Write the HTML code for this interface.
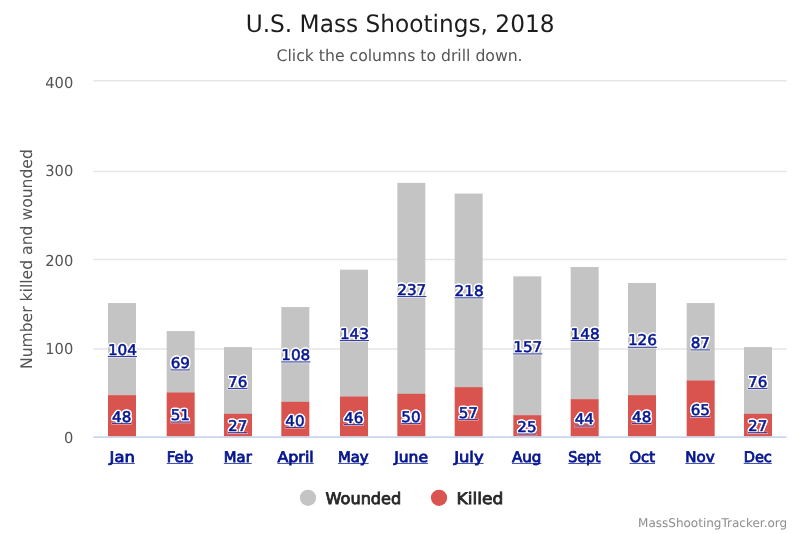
<!DOCTYPE html>
<html lang="en"><head><meta charset="utf-8"><title>U.S. Mass Shootings, 2018</title>
<style>html,body{margin:0;padding:0;background:#fff;overflow:hidden;}svg{display:block;}text{font-family:"DejaVu Sans", "Liberation Sans", sans-serif;text-rendering:geometricPrecision;}.dl{font-size:14.8px;fill:#06168f;stroke:#06168f;stroke-width:0.55px;}.xl{font-size:14.67px;fill:#06168f;stroke:#06168f;stroke-width:0.8px;}.yl{font-size:15.2px;fill:#545454;}.lg{font-size:16px;fill:#262626;stroke:#262626;stroke-width:0.8px;}</style></head><body>
<svg width="800" height="534" viewBox="0 0 800 534">
<rect width="800" height="534" fill="#ffffff"/>
<defs><filter id="halo" x="-25%" y="-35%" width="150%" height="170%" color-interpolation-filters="sRGB"><feGaussianBlur in="SourceAlpha" stdDeviation="1.2" result="b"/><feComponentTransfer in="b" result="t"><feFuncA type="linear" slope="12" intercept="-0.35"/></feComponentTransfer><feFlood flood-color="#ffffff"/><feComposite in2="t" operator="in" result="h"/><feMerge><feMergeNode in="h"/><feMergeNode in="SourceGraphic"/></feMerge></filter></defs>
<path d="M93.3 80.80H786.6" stroke="#e6e6e6" stroke-width="1.5"/>
<path d="M93.3 171.40H786.6" stroke="#e6e6e6" stroke-width="1.5"/>
<path d="M93.3 259.60H786.6" stroke="#e6e6e6" stroke-width="1.5"/>
<path d="M93.3 349.10H786.6" stroke="#e6e6e6" stroke-width="1.5"/>
<rect x="108.00" y="303.05" width="28.00" height="92.41" fill="#c4c4c4"/>
<rect x="108.00" y="395.16" width="28.00" height="41.39" fill="#d9534f"/>
<rect x="166.67" y="331.08" width="28.00" height="61.71" fill="#c4c4c4"/>
<rect x="166.67" y="392.49" width="28.00" height="44.06" fill="#d9534f"/>
<rect x="224.00" y="347.10" width="28.00" height="67.05" fill="#c4c4c4"/>
<rect x="224.00" y="413.85" width="28.00" height="22.70" fill="#d9534f"/>
<rect x="281.33" y="307.05" width="28.00" height="95.08" fill="#c4c4c4"/>
<rect x="281.33" y="401.83" width="28.00" height="34.71" fill="#d9534f"/>
<rect x="340.00" y="269.67" width="28.00" height="127.12" fill="#c4c4c4"/>
<rect x="340.00" y="396.50" width="28.00" height="40.05" fill="#d9534f"/>
<rect x="397.33" y="182.89" width="28.00" height="211.23" fill="#c4c4c4"/>
<rect x="397.33" y="393.82" width="28.00" height="42.72" fill="#d9534f"/>
<rect x="454.67" y="193.57" width="28.00" height="193.88" fill="#c4c4c4"/>
<rect x="454.67" y="387.15" width="28.00" height="49.40" fill="#d9534f"/>
<rect x="513.33" y="276.34" width="28.00" height="139.14" fill="#c4c4c4"/>
<rect x="513.33" y="415.19" width="28.00" height="21.36" fill="#d9534f"/>
<rect x="570.67" y="267.00" width="28.00" height="132.46" fill="#c4c4c4"/>
<rect x="570.67" y="399.16" width="28.00" height="37.38" fill="#d9534f"/>
<rect x="628.00" y="283.02" width="28.00" height="112.44" fill="#c4c4c4"/>
<rect x="628.00" y="395.16" width="28.00" height="41.39" fill="#d9534f"/>
<rect x="686.67" y="303.05" width="28.00" height="77.73" fill="#c4c4c4"/>
<rect x="686.67" y="380.47" width="28.00" height="56.07" fill="#d9534f"/>
<rect x="744.00" y="347.10" width="28.00" height="67.05" fill="#c4c4c4"/>
<rect x="744.00" y="413.85" width="28.00" height="22.70" fill="#d9534f"/>
<path d="M93.3 437.15H786.6" stroke="#ccd6eb" stroke-width="1.6"/>
<text class="yl" x="73.3" y="87.90" text-anchor="end" textLength="27.99" lengthAdjust="spacingAndGlyphs">400</text>
<text class="yl" x="73.3" y="176.40" text-anchor="end" textLength="27.99" lengthAdjust="spacingAndGlyphs">300</text>
<text class="yl" x="73.3" y="265.60" text-anchor="end" textLength="27.99" lengthAdjust="spacingAndGlyphs">200</text>
<text class="yl" x="73.3" y="353.75" text-anchor="end" textLength="27.99" lengthAdjust="spacingAndGlyphs">100</text>
<text class="yl" x="73.3" y="443.25" text-anchor="end" textLength="9.33" lengthAdjust="spacingAndGlyphs">0</text>
<text transform="translate(32.3,259.1) rotate(-90)" text-anchor="middle" font-size="16" fill="#545454" textLength="219.9" lengthAdjust="spacingAndGlyphs">Number killed and wounded</text>
<rect x="107.30" y="355.65" width="30.30" height="2.3" fill="#fff" opacity="0.5"/><text class="dl" filter="url(#halo)" x="107.90" y="354.75" textLength="29.10" lengthAdjust="spacingAndGlyphs">104</text><rect x="107.90" y="356.18" width="29.10" height="0.8" fill="#06168f"/>
<rect x="111.40" y="422.40" width="20.50" height="2.3" fill="#fff" opacity="0.5"/><text class="dl" filter="url(#halo)" x="112.00" y="421.50" textLength="19.30" lengthAdjust="spacingAndGlyphs">48</text><rect x="112.00" y="422.93" width="19.30" height="0.8" fill="#06168f"/>
<rect x="170.07" y="369.00" width="20.50" height="2.3" fill="#fff" opacity="0.5"/><text class="dl" filter="url(#halo)" x="170.67" y="368.10" textLength="19.30" lengthAdjust="spacingAndGlyphs">69</text><rect x="170.67" y="369.53" width="19.30" height="0.8" fill="#06168f"/>
<rect x="170.07" y="421.06" width="20.50" height="2.3" fill="#fff" opacity="0.5"/><text class="dl" filter="url(#halo)" x="170.67" y="420.17" textLength="19.30" lengthAdjust="spacingAndGlyphs">51</text><rect x="170.67" y="421.60" width="19.30" height="0.8" fill="#06168f"/>
<rect x="227.40" y="387.69" width="20.50" height="2.3" fill="#fff" opacity="0.5"/><text class="dl" filter="url(#halo)" x="228.00" y="386.79" textLength="19.30" lengthAdjust="spacingAndGlyphs">76</text><rect x="228.00" y="388.22" width="19.30" height="0.8" fill="#06168f"/>
<rect x="227.40" y="431.75" width="20.50" height="2.3" fill="#fff" opacity="0.5"/><text class="dl" filter="url(#halo)" x="228.00" y="430.85" textLength="19.30" lengthAdjust="spacingAndGlyphs">27</text><rect x="228.00" y="432.28" width="19.30" height="0.8" fill="#06168f"/>
<rect x="280.63" y="360.99" width="30.30" height="2.3" fill="#fff" opacity="0.5"/><text class="dl" filter="url(#halo)" x="281.23" y="360.09" textLength="29.10" lengthAdjust="spacingAndGlyphs">108</text><rect x="281.23" y="361.52" width="29.10" height="0.8" fill="#06168f"/>
<rect x="284.73" y="426.40" width="20.50" height="2.3" fill="#fff" opacity="0.5"/><text class="dl" filter="url(#halo)" x="285.33" y="425.50" textLength="19.30" lengthAdjust="spacingAndGlyphs">40</text><rect x="285.33" y="426.94" width="19.30" height="0.8" fill="#06168f"/>
<rect x="339.30" y="339.63" width="30.30" height="2.3" fill="#fff" opacity="0.5"/><text class="dl" filter="url(#halo)" x="339.90" y="338.73" textLength="29.10" lengthAdjust="spacingAndGlyphs">143</text><rect x="339.90" y="340.16" width="29.10" height="0.8" fill="#06168f"/>
<rect x="343.40" y="423.73" width="20.50" height="2.3" fill="#fff" opacity="0.5"/><text class="dl" filter="url(#halo)" x="344.00" y="422.83" textLength="19.30" lengthAdjust="spacingAndGlyphs">46</text><rect x="344.00" y="424.26" width="19.30" height="0.8" fill="#06168f"/>
<rect x="396.63" y="295.57" width="30.30" height="2.3" fill="#fff" opacity="0.5"/><text class="dl" filter="url(#halo)" x="397.23" y="294.68" textLength="29.10" lengthAdjust="spacingAndGlyphs">237</text><rect x="397.23" y="296.11" width="29.10" height="0.8" fill="#06168f"/>
<rect x="400.73" y="422.40" width="20.50" height="2.3" fill="#fff" opacity="0.5"/><text class="dl" filter="url(#halo)" x="401.33" y="421.50" textLength="19.30" lengthAdjust="spacingAndGlyphs">50</text><rect x="401.33" y="422.93" width="19.30" height="0.8" fill="#06168f"/>
<rect x="453.97" y="296.91" width="30.30" height="2.3" fill="#fff" opacity="0.5"/><text class="dl" filter="url(#halo)" x="454.57" y="296.01" textLength="29.10" lengthAdjust="spacingAndGlyphs">218</text><rect x="454.57" y="297.44" width="29.10" height="0.8" fill="#06168f"/>
<rect x="458.07" y="418.39" width="20.50" height="2.3" fill="#fff" opacity="0.5"/><text class="dl" filter="url(#halo)" x="458.67" y="417.50" textLength="19.30" lengthAdjust="spacingAndGlyphs">57</text><rect x="458.67" y="418.93" width="19.30" height="0.8" fill="#06168f"/>
<rect x="512.63" y="352.98" width="30.30" height="2.3" fill="#fff" opacity="0.5"/><text class="dl" filter="url(#halo)" x="513.23" y="352.08" textLength="29.10" lengthAdjust="spacingAndGlyphs">157</text><rect x="513.23" y="353.51" width="29.10" height="0.8" fill="#06168f"/>
<rect x="516.73" y="433.08" width="20.50" height="2.3" fill="#fff" opacity="0.5"/><text class="dl" filter="url(#halo)" x="517.33" y="432.18" textLength="19.30" lengthAdjust="spacingAndGlyphs">25</text><rect x="517.33" y="433.61" width="19.30" height="0.8" fill="#06168f"/>
<rect x="569.97" y="339.63" width="30.30" height="2.3" fill="#fff" opacity="0.5"/><text class="dl" filter="url(#halo)" x="570.57" y="338.73" textLength="29.10" lengthAdjust="spacingAndGlyphs">148</text><rect x="570.57" y="340.16" width="29.10" height="0.8" fill="#06168f"/>
<rect x="574.07" y="425.07" width="20.50" height="2.3" fill="#fff" opacity="0.5"/><text class="dl" filter="url(#halo)" x="574.67" y="424.17" textLength="19.30" lengthAdjust="spacingAndGlyphs">44</text><rect x="574.67" y="425.60" width="19.30" height="0.8" fill="#06168f"/>
<rect x="627.30" y="346.30" width="30.30" height="2.3" fill="#fff" opacity="0.5"/><text class="dl" filter="url(#halo)" x="627.90" y="345.40" textLength="29.10" lengthAdjust="spacingAndGlyphs">126</text><rect x="627.90" y="346.83" width="29.10" height="0.8" fill="#06168f"/>
<rect x="631.40" y="422.40" width="20.50" height="2.3" fill="#fff" opacity="0.5"/><text class="dl" filter="url(#halo)" x="632.00" y="421.50" textLength="19.30" lengthAdjust="spacingAndGlyphs">48</text><rect x="632.00" y="422.93" width="19.30" height="0.8" fill="#06168f"/>
<rect x="690.07" y="348.97" width="20.50" height="2.3" fill="#fff" opacity="0.5"/><text class="dl" filter="url(#halo)" x="690.67" y="348.07" textLength="19.30" lengthAdjust="spacingAndGlyphs">87</text><rect x="690.67" y="349.50" width="19.30" height="0.8" fill="#06168f"/>
<rect x="690.07" y="415.72" width="20.50" height="2.3" fill="#fff" opacity="0.5"/><text class="dl" filter="url(#halo)" x="690.67" y="414.82" textLength="19.30" lengthAdjust="spacingAndGlyphs">65</text><rect x="690.67" y="416.25" width="19.30" height="0.8" fill="#06168f"/>
<rect x="747.40" y="387.69" width="20.50" height="2.3" fill="#fff" opacity="0.5"/><text class="dl" filter="url(#halo)" x="748.00" y="386.79" textLength="19.30" lengthAdjust="spacingAndGlyphs">76</text><rect x="748.00" y="388.22" width="19.30" height="0.8" fill="#06168f"/>
<rect x="747.40" y="431.75" width="20.50" height="2.3" fill="#fff" opacity="0.5"/><text class="dl" filter="url(#halo)" x="748.00" y="430.85" textLength="19.30" lengthAdjust="spacingAndGlyphs">27</text><rect x="748.00" y="432.28" width="19.30" height="0.8" fill="#06168f"/>
<text class="xl" x="109.62" y="461.85" textLength="25.20" lengthAdjust="spacingAndGlyphs">Jan</text>
<rect x="109.62" y="462.95" width="25.20" height="0.85" fill="#06168f" opacity="0.9"/>
<text class="xl" x="166.75" y="461.85" textLength="26.50" lengthAdjust="spacingAndGlyphs">Feb</text>
<rect x="166.75" y="462.95" width="26.50" height="0.85" fill="#06168f" opacity="0.9"/>
<text class="xl" x="223.83" y="461.85" textLength="27.90" lengthAdjust="spacingAndGlyphs">Mar</text>
<rect x="223.83" y="462.95" width="27.90" height="0.85" fill="#06168f" opacity="0.9"/>
<text class="xl" x="277.41" y="461.85" textLength="36.30" lengthAdjust="spacingAndGlyphs">April</text>
<rect x="277.41" y="462.95" width="36.30" height="0.85" fill="#06168f" opacity="0.9"/>
<text class="xl" x="338.03" y="461.85" textLength="30.60" lengthAdjust="spacingAndGlyphs">May</text>
<rect x="338.03" y="462.95" width="30.60" height="0.85" fill="#06168f" opacity="0.9"/>
<text class="xl" x="394.16" y="461.85" textLength="33.90" lengthAdjust="spacingAndGlyphs">June</text>
<rect x="394.16" y="462.95" width="33.90" height="0.85" fill="#06168f" opacity="0.9"/>
<text class="xl" x="454.19" y="461.85" textLength="29.40" lengthAdjust="spacingAndGlyphs">July</text>
<rect x="454.19" y="462.95" width="29.40" height="0.85" fill="#06168f" opacity="0.9"/>
<text class="xl" x="511.97" y="461.85" textLength="29.40" lengthAdjust="spacingAndGlyphs">Aug</text>
<rect x="511.97" y="462.95" width="29.40" height="0.85" fill="#06168f" opacity="0.9"/>
<text class="xl" x="568.24" y="461.85" textLength="32.40" lengthAdjust="spacingAndGlyphs">Sept</text>
<rect x="568.24" y="462.95" width="32.40" height="0.85" fill="#06168f" opacity="0.9"/>
<text class="xl" x="629.47" y="461.85" textLength="25.50" lengthAdjust="spacingAndGlyphs">Oct</text>
<rect x="629.47" y="462.95" width="25.50" height="0.85" fill="#06168f" opacity="0.9"/>
<text class="xl" x="685.30" y="461.85" textLength="29.40" lengthAdjust="spacingAndGlyphs">Nov</text>
<rect x="685.30" y="462.95" width="29.40" height="0.85" fill="#06168f" opacity="0.9"/>
<text class="xl" x="743.68" y="461.85" textLength="28.20" lengthAdjust="spacingAndGlyphs">Dec</text>
<rect x="743.68" y="462.95" width="28.20" height="0.85" fill="#06168f" opacity="0.9"/>
<text x="245.7" y="31.6" font-size="24" fill="#1c1c1c" textLength="308.8" lengthAdjust="spacingAndGlyphs">U.S. Mass Shootings, 2018</text>
<text x="276.6" y="61.0" font-size="16" fill="#555555" textLength="246" lengthAdjust="spacingAndGlyphs">Click the columns to drill down.</text>
<circle cx="308" cy="497.8" r="8.1" fill="#c4c4c4"/>
<text class="lg" x="325.55" y="504" textLength="75.7" lengthAdjust="spacingAndGlyphs">Wounded</text>
<circle cx="439.05" cy="497.8" r="8.1" fill="#d9534f"/>
<text class="lg" x="456.6" y="504" textLength="46.7" lengthAdjust="spacingAndGlyphs">Killed</text>
<text x="638.1" y="527.4" font-size="12" fill="#8e8e8e">MassShootingTracker.org</text>
</svg></body></html>
